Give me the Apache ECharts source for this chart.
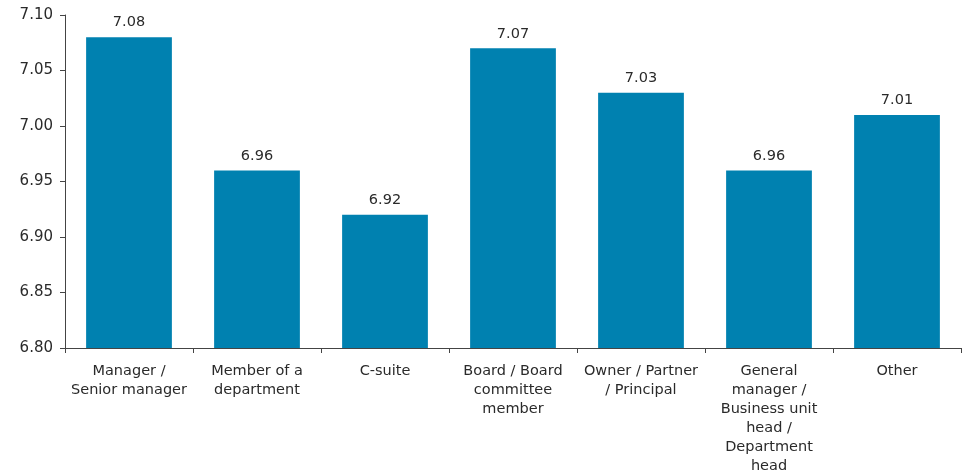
<!DOCTYPE html>
<html>
<head>
<meta charset="utf-8">
<script src="https://cdn.jsdelivr.net/npm/echarts@6/dist/echarts.min.js"></script>
<style>
  html, body { margin: 0; padding: 0; background: #fff; }
  #chart { width: 968px; height: 471px; }
</style>
</head>
<body>
<div id="chart"></div>
<script>
// Average score by job role
const categories = [
  'Manager /\nSenior manager',
  'Member of a\ndepartment',
  'C-suite',
  'Board / Board\ncommittee\nmember',
  'Owner / Partner\n/ Principal',
  'General\nmanager /\nBusiness unit\nhead /\nDepartment\nhead',
  'Other'
];
const scores = [7.08, 6.96, 6.92, 7.07, 7.03, 6.96, 7.01];
const yTicks = { min: 6.80, max: 7.10, step: 0.05 };

const textColor = '#2a2a2a';
const fontFamily = '"DejaVu Sans", Verdana, sans-serif';

const chart = echarts.init(document.getElementById('chart'));
chart.setOption({
  animation: false,
  grid: { left: 65, right: 7, top: 15, bottom: 123, containLabel: false, outerBoundsMode: 'none' },
  xAxis: {
    type: 'category',
    data: categories,
    axisLine: { lineStyle: { color: '#444', width: 1 } },
    axisTick: { show: true, length: 5, alignWithLabel: false, lineStyle: { color: '#444' } },
    axisLabel: {
      interval: 0,
      color: textColor,
      fontFamily: fontFamily,
      fontSize: 14.5,
      lineHeight: 19,
      margin: 14
    }
  },
  yAxis: {
    type: 'value',
    min: yTicks.min,
    max: yTicks.max,
    interval: yTicks.step,
    axisLine: { show: true, lineStyle: { color: '#444', width: 1 } },
    axisTick: { show: true, length: 5, lineStyle: { color: '#444' } },
    splitLine: { show: false },
    axisLabel: {
      color: textColor,
      fontFamily: fontFamily,
      fontSize: 15,
      margin: 12,
      formatter: v => v.toFixed(2)
    }
  },
  series: [{
    type: 'bar',
    data: scores,
    barCategoryGap: '33%',
    itemStyle: { color: '#0081B0' },
    label: {
      show: true,
      position: 'top',
      distance: 7,
      color: textColor,
      fontFamily: fontFamily,
      fontSize: 14.5,
      formatter: p => p.value.toFixed(2)
    }
  }]
});
</script>
</body>
</html>
